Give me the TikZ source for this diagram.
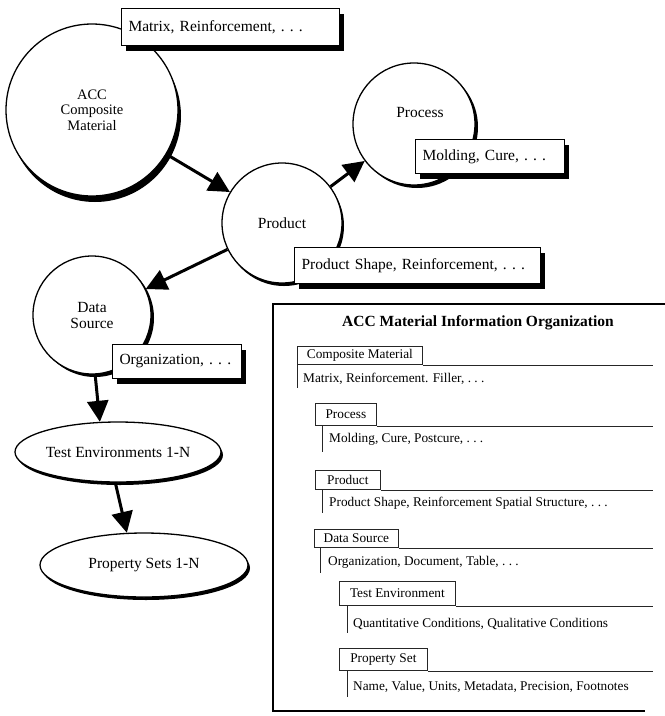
\documentclass[tikz,border=0pt]{standalone}
\usepackage{fontspec}
\setmainfont{Liberation Serif}
\usetikzlibrary{arrows.meta,shapes.geometric,shadows}
\newcommand\dgbig{\fontsize{15.5pt}{16pt}\selectfont}
\newcommand\dgmid{\fontsize{14.5pt}{15.5pt}\selectfont}
\newcommand\dgsmall{\fontsize{13.3pt}{15pt}\selectfont}
\newcommand\dgtitle{\fontsize{15.5pt}{17pt}\selectfont\bfseries}
\tikzset{
  arr/.style={line width=3pt, -{Triangle[length=21pt,width=21pt]}},
  bubble/.style={circle, draw, line width=1.3pt, fill=white, inner sep=0pt, align=center, font=\dgbig},
  oval/.style={ellipse, draw, line width=1.3pt, fill=white, inner sep=0pt, font=\dgbig,
    drop shadow={shadow xshift=2pt, shadow yshift=-3pt, fill=black, opacity=1}},
  tagbox/.style={rectangle, draw, line width=1pt, fill=white, anchor=north west, align=left,
    inner xsep=7pt, inner ysep=0pt, font=\dgbig,
    drop shadow={shadow xshift=4pt, shadow yshift=-5pt, fill=black, opacity=1}},
  tabbox/.style={rectangle, draw=black!85, line width=0.8pt, anchor=south west, inner sep=0pt, font=\dgsmall},
  rulel/.style={draw=black!85, line width=0.8pt},
  itemtxt/.style={anchor=west, inner sep=0pt, font=\dgsmall},
  panelline/.style={line width=1.6pt}
}
\begin{document}
\begin{tikzpicture}[x=1pt,y=-1pt]
\useasboundingbox (0,0) rectangle (665,716);

% ---- left diagram ----
\node[bubble, font=\dgmid, minimum size=172pt,
  drop shadow={shadow xshift=3pt, shadow yshift=-6pt, fill=black, opacity=1}] (acc) at (92,110) {ACC\\Composite\\Material};
\node[tagbox, text width=204pt, minimum height=37pt] (accbox) at (121,8) {Matrix, Reinforcement, .~.~.};

\node[bubble, minimum size=122pt,
  drop shadow={shadow xshift=3pt, shadow yshift=-3pt, fill=black, opacity=1}] (proc) at (414,124) {};
\node[font=\dgbig, inner sep=0pt] (proclab) at (420,112) {Process};
\node[tagbox, text width=135pt, minimum height=34pt] (procbox) at (415,139) {Molding, Cure, .~.~.};

\node[bubble, minimum size=120pt,
  drop shadow={shadow xshift=2pt, shadow yshift=-3pt, fill=black, opacity=1}] (prod) at (282,223) {Product};
\node[tagbox, text width=232pt, minimum height=36pt] (prodbox) at (294,247) {Product Shape, Reinforcement, .~.~.};

\node[bubble, minimum size=118pt,
  drop shadow={shadow xshift=3pt, shadow yshift=-3pt, fill=black, opacity=1}] (ds) at (92,315) {Data\\Source};
\node[tagbox, text width=115pt, minimum height=34pt] (dsbox) at (112,344) {\mbox{Organization,~.~.~.}};

\node[oval, minimum width=206pt, minimum height=60pt] (te) at (118,452) {Test Environments 1-N};
\node[oval, minimum width=208pt, minimum height=64pt] (ps) at (144,565) {Property Sets 1-N};

\draw[arr] (acc) -- (prod);
\draw[arr] (prod) -- (proc);
\draw[arr] (prod) -- (ds);
\draw[arr] (ds.-87) -- (te.121);
\draw[arr] (te.-95) -- (ps.118);

% ---- right panel ----
\coordinate (pTR) at (665,304);
\coordinate (pTL) at (273,304);
\coordinate (pBL) at (273,711);
\coordinate (pBR) at (645,711);
\coordinate (rlim) at (653,0);
\draw[panelline] (pTR) -- (pTL) -- (pBL) -- (pBR);

\node[font=\dgtitle, inner sep=0pt] (title) at (478,323) {ACC Material Information Organization};

% Composite Material
\node[tabbox, minimum width=125pt, minimum height=18pt] (tcm) at (297,365) {Composite Material};
\draw[rulel] (tcm.south east) -- (tcm.south east -| rlim);
\coordinate (vcmA) at (297,365); \coordinate (vcmB) at (297,388);
\draw[rulel] (vcmA) -- (vcmB);
\node[itemtxt] (icm) at (303,379) {Matrix, Reinforcement. Filler, .~.~.};

% Process
\node[tabbox, minimum width=61pt, minimum height=22pt] (tpc) at (315,426) {Process};
\draw[rulel] (tpc.south east) -- (tpc.south east -| rlim);
\coordinate (vpcA) at (322,426); \coordinate (vpcB) at (322,452);
\draw[rulel] (vpcA) -- (vpcB);
\node[itemtxt] (ipc) at (329,439) {Molding, Cure, Postcure, .~.~.};

% Product
\node[tabbox, minimum width=65pt, minimum height=19pt] (tpd) at (315,490) {Product};
\draw[rulel] (tpd.south east) -- (tpd.south east -| rlim);
\coordinate (vpdA) at (322,490); \coordinate (vpdB) at (322,513);
\draw[rulel] (vpdA) -- (vpdB);
\node[itemtxt] (ipd) at (329,503) {Product Shape, Reinforcement Spatial Structure, .~.~.};

% Data Source
\node[tabbox, minimum width=84pt, minimum height=18pt] (tds) at (314,548) {Data Source};
\draw[rulel] (tds.south east) -- (tds.south east -| rlim);
\coordinate (vdsA) at (320,548); \coordinate (vdsB) at (320,573);
\draw[rulel] (vdsA) -- (vdsB);
\node[itemtxt] (ids) at (328,562) {Organization, Document, Table, .~.~.};

% Test Environment
\node[tabbox, minimum width=116pt, minimum height=24pt] (tte) at (339,606) {Test Environment};
\draw[rulel] (tte.south east) -- (tte.south east -| rlim);
\coordinate (vteA) at (347,606); \coordinate (vteB) at (347,633);
\draw[rulel] (vteA) -- (vteB);
\node[itemtxt] (ite) at (353,624) {Quantitative Conditions, Qualitative Conditions};

% Property Set
\node[tabbox, minimum width=88pt, minimum height=22pt] (tps) at (339,671) {Property Set};
\draw[rulel] (tps.south east) -- (tps.south east -| rlim);
\coordinate (vpsA) at (347,671); \coordinate (vpsB) at (347,697);
\draw[rulel] (vpsA) -- (vpsB);
\node[itemtxt] (ips) at (353,687) {Name, Value, Units, Metadata, Precision, Footnotes};
\end{tikzpicture}
\end{document}
